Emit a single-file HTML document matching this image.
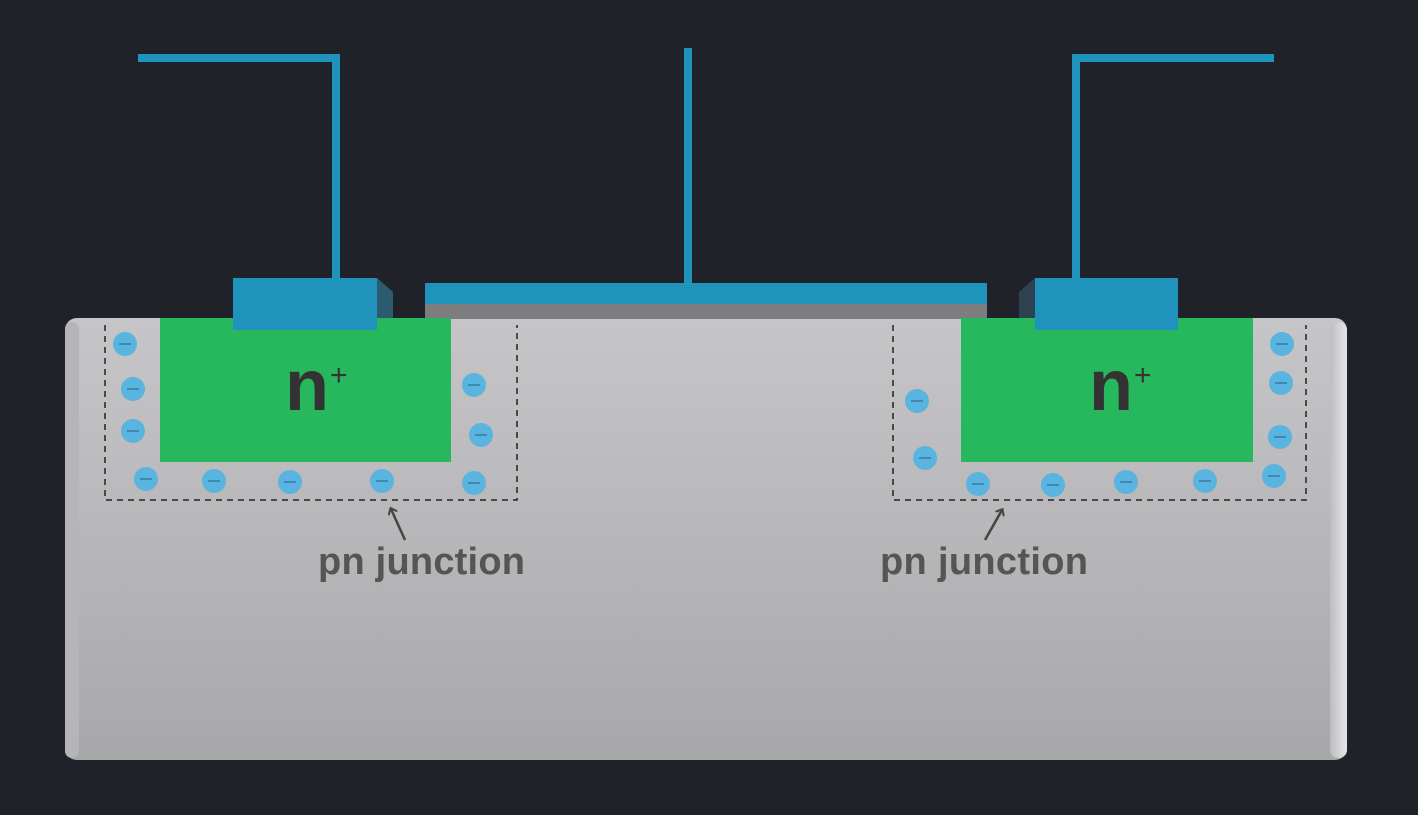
<!DOCTYPE html>
<html><head><style>html,body{margin:0;padding:0;background:#1f2329;}svg{display:block}</style></head>
<body>
<svg width="1418" height="815" viewBox="0 0 1418 815" xmlns="http://www.w3.org/2000/svg">
<defs>
<linearGradient id="sub" x1="0" y1="0" x2="0" y2="1">
<stop offset="0" stop-color="#c6c5c7"/><stop offset="1" stop-color="#a8a7a9"/>
</linearGradient>
<linearGradient id="side" x1="0" y1="0" x2="1" y2="0">
<stop offset="0" stop-color="#bdbcbe"/><stop offset="1" stop-color="#e6e5e7"/>
</linearGradient>
<marker id="ah" markerWidth="10" markerHeight="10" refX="5" refY="5" orient="auto" markerUnits="userSpaceOnUse">
<path d="M0,0 L6,5 L0,10" fill="none" stroke="#444" stroke-width="2"/>
</marker>
</defs>
<rect width="1418" height="815" fill="#1f2329"/>
<rect x="65" y="318" width="1282" height="442" rx="12" fill="url(#sub)"/>
<rect x="1330" y="322" width="17" height="436" rx="8" fill="url(#side)"/>
<rect x="65" y="322" width="14" height="436" rx="7" fill="#b5b4b6"/>
<g stroke="#1f93bb" stroke-width="8" fill="none">
<polyline points="138,58 336,58 336,280"/>
<line x1="688" y1="48" x2="688" y2="286"/>
<polyline points="1274,58 1076,58 1076,280"/>
</g>
<rect x="425" y="303" width="562" height="16" fill="#7d7c7e"/>
<rect x="425" y="283" width="562" height="21" fill="#1f93bb"/>
<rect x="160" y="318" width="291" height="144" fill="#27b85e"/>
<rect x="961" y="318" width="292" height="144" fill="#27b85e"/>
<polygon points="377,278 393,292 393,318 377,318" fill="#2c5a70"/>
<rect x="233" y="278" width="144" height="52" fill="#1f93bb"/>
<polygon points="1035,278 1019,292 1019,318 1035,318" fill="#2d4150"/>
<rect x="1035" y="278" width="143" height="52" fill="#1f93bb"/>
<g stroke="#222" stroke-width="1.5" stroke-dasharray="6,5" fill="none">
<polyline points="105,325 105,500 517,500 517,325"/>
<polyline points="893,325 893,500 1306,500 1306,325"/>
</g>
<g fill="#5ab4e0">
<circle cx="125" cy="344" r="12"/><circle cx="133" cy="389" r="12"/><circle cx="133" cy="431" r="12"/>
<circle cx="146" cy="479" r="12"/><circle cx="214" cy="481" r="12"/><circle cx="290" cy="482" r="12"/>
<circle cx="382" cy="481" r="12"/><circle cx="474" cy="483" r="12"/><circle cx="474" cy="385" r="12"/>
<circle cx="481" cy="435" r="12"/>
<circle cx="917" cy="401" r="12"/><circle cx="925" cy="458" r="12"/><circle cx="978" cy="484" r="12"/>
<circle cx="1053" cy="485" r="12"/><circle cx="1126" cy="482" r="12"/><circle cx="1205" cy="481" r="12"/>
<circle cx="1274" cy="476" r="12"/><circle cx="1282" cy="344" r="12"/><circle cx="1281" cy="383" r="12"/>
<circle cx="1280" cy="437" r="12"/>
</g>
<g stroke="#3f88b0" stroke-width="2">
<line x1="119" y1="344" x2="131" y2="344"/><line x1="127" y1="389" x2="139" y2="389"/><line x1="127" y1="431" x2="139" y2="431"/>
<line x1="140" y1="479" x2="152" y2="479"/><line x1="208" y1="481" x2="220" y2="481"/><line x1="284" y1="482" x2="296" y2="482"/>
<line x1="376" y1="481" x2="388" y2="481"/><line x1="468" y1="483" x2="480" y2="483"/><line x1="468" y1="385" x2="480" y2="385"/>
<line x1="475" y1="435" x2="487" y2="435"/>
<line x1="911" y1="401" x2="923" y2="401"/><line x1="919" y1="458" x2="931" y2="458"/><line x1="972" y1="484" x2="984" y2="484"/>
<line x1="1047" y1="485" x2="1059" y2="485"/><line x1="1120" y1="482" x2="1132" y2="482"/><line x1="1199" y1="481" x2="1211" y2="481"/>
<line x1="1268" y1="476" x2="1280" y2="476"/><line x1="1276" y1="344" x2="1288" y2="344"/><line x1="1275" y1="383" x2="1287" y2="383"/>
<line x1="1274" y1="437" x2="1286" y2="437"/>
</g>
<g font-family="'Liberation Sans', sans-serif" font-weight="bold" fill="#333">
<text x="285" y="410" font-size="72">n</text><text x="330" y="385" font-size="30" font-weight="normal">+</text>
<text x="1089" y="410" font-size="72">n</text><text x="1134" y="385" font-size="30" font-weight="normal">+</text>
</g>
<g font-family="'Liberation Sans', sans-serif" font-weight="bold" fill="#555" font-size="38">
<text x="318" y="574" textLength="207" lengthAdjust="spacing">pn junction</text>
<text x="880" y="574" textLength="208" lengthAdjust="spacing">pn junction</text>
</g>
<line x1="405" y1="540" x2="391" y2="509" stroke="#444" stroke-width="2.5" marker-end="url(#ah)"/>
<line x1="985" y1="540" x2="1002" y2="510" stroke="#444" stroke-width="2.5" marker-end="url(#ah)"/>
</svg>
</body></html>
